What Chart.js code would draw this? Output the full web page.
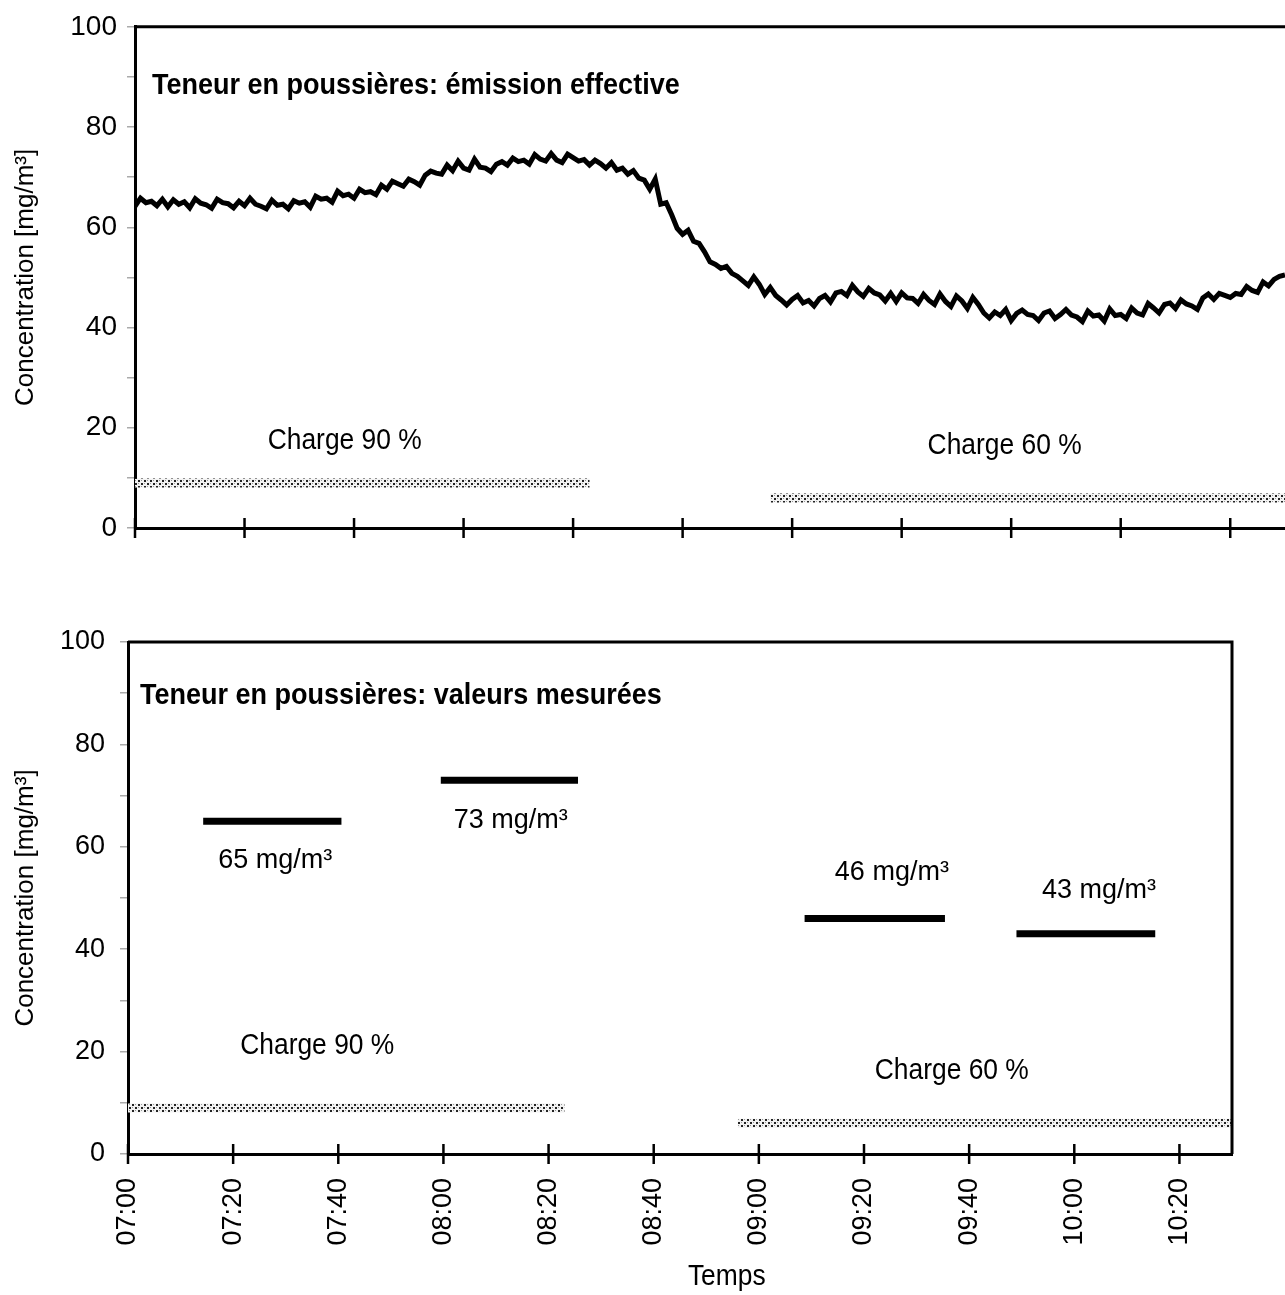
<!DOCTYPE html>
<html>
<head>
<meta charset="utf-8">
<script src="https://cdn.jsdelivr.net/npm/chart.js@4.4.1/dist/chart.umd.min.js"></script>
<style>
  body { margin: 0; background: #fff; width: 1285px; height: 1295px; position: relative; overflow: hidden; }
  #emissionChart { position: absolute; left: 0; top: 0; }
  #measuredChart { position: absolute; left: 0; top: 600px; }
</style>
</head>
<body>
<canvas id="emissionChart" width="1285" height="560"></canvas>
<canvas id="measuredChart" width="1285" height="695"></canvas>
<script>
// time axis: minutes after 07:00
const tickLabels = ['07:00', '07:20', '07:40', '08:00', '08:20', '08:40', '09:00', '09:20', '09:40', '10:00', '10:20'];

// effective emission, one reading per minute from 07:00 to 10:30 (mg/m3)
const emission = [
  64.2, 65.8, 64.9, 65.2, 64.3, 65.6, 64.1, 65.5, 64.6, 65.1,
  63.9, 65.7, 64.8, 64.5, 63.8, 65.6, 64.9, 64.7, 63.9, 65.2,
  64.3, 65.8, 64.6, 64.2, 63.7, 65.4, 64.4, 64.6, 63.7, 65.3,
  64.8, 65.1, 64.0, 66.2, 65.6, 65.8, 65.0, 67.2, 66.3, 66.6,
  65.8, 67.6, 66.9, 67.1, 66.5, 68.4, 67.6, 69.2, 68.7, 68.2,
  69.6, 69.1, 68.4, 70.4, 71.2, 70.8, 70.6, 72.4, 71.3, 73.2,
  71.8, 71.4, 73.6, 72.0, 71.8, 71.1, 72.6, 73.1, 72.4, 73.8,
  73.1, 73.4, 72.6, 74.5, 73.6, 73.2, 74.7, 73.4, 72.9, 74.6,
  73.9, 73.2, 73.5, 72.4, 73.4, 72.7, 71.8, 72.9, 71.4, 71.8,
  70.6, 71.3, 69.8, 69.4, 67.6, 69.6, 64.6, 64.9, 62.5, 59.8,
  58.6, 59.4, 57.2, 56.8, 55.1, 53.1, 52.6, 51.8, 52.2, 50.8,
  50.2, 49.3, 48.4, 50.1, 48.6, 46.6, 48.0, 46.4, 45.5, 44.5,
  45.6, 46.4, 44.9, 45.4, 44.3, 45.8, 46.4, 45.1, 46.9, 47.2,
  46.4, 48.4, 47.1, 46.2, 47.8, 46.9, 46.5, 45.3, 46.8, 45.2,
  46.9, 45.9, 45.8, 44.8, 46.6, 45.4, 44.6, 46.7, 45.2, 44.2,
  46.3, 45.3, 43.8, 46.0, 44.6, 42.9, 41.9, 43.1, 42.4, 43.6,
  41.4, 42.8, 43.5, 42.6, 42.4, 41.4, 42.9, 43.3, 41.8, 42.6,
  43.6, 42.5, 42.1, 41.2, 43.3, 42.3, 42.5, 41.3, 43.7, 42.4,
  42.6, 41.8, 43.9, 42.9, 42.5, 44.8, 43.9, 42.9, 44.6, 44.9,
  43.8, 45.5, 44.7, 44.3, 43.6, 45.9, 46.7, 45.6, 46.8, 46.4,
  46.0, 46.8, 46.6, 48.2, 47.4, 47.0, 49.1, 48.3, 49.6, 50.2, 50.5
];

// measured values per sampling period
const measured = [65, 73, 46, 43];
const periodStart = [14.3, 59.5, 128.7, 169];
const periodEnd = [40.6, 85.6, 155.4, 195.4];

// boiler load periods
const loadLabels = ['Charge 90 %', 'Charge 60 %'];
const loadLevel = [9, 6];
const loadStart = [0, 116];
const loadEnd = [83, 210];

const SANS = '"Liberation Sans", Arial, sans-serif';

function stipple() {
  const c = document.createElement('canvas');
  c.width = 6; c.height = 6;
  const g = c.getContext('2d');
  g.fillStyle = '#f2f2f2'; g.fillRect(0, 0, 6, 6);
  g.fillStyle = '#222'; g.fillRect(0, 0, 2, 2); g.fillRect(3, 3, 2, 2);
  g.fillStyle = '#999'; g.fillRect(3, 0, 1, 1); g.fillRect(0, 3, 1, 1);
  return g.createPattern(c, 'repeat');
}

function loadBands() {
  const pat = stipple();
  return loadLevel.map((lv, i) => ({
    data: [{ x: loadStart[i], y: lv }, { x: loadEnd[i], y: lv }],
    borderColor: pat, borderWidth: 9, borderCapStyle: 'butt', pointRadius: 0
  }));
}

// frame lines, crossing x ticks and free texts placed in data coordinates
const extras = {
  id: 'extras',
  afterDraw(chart, args, opts) {
    const { ctx, chartArea: a, scales: { x, y } } = chart;
    ctx.save();
    ctx.strokeStyle = '#000';
    ctx.lineWidth = 3;
    ctx.beginPath();
    ctx.moveTo(a.left, a.top);
    ctx.lineTo(a.right, a.top);
    if (opts.box) ctx.lineTo(a.right, a.bottom);
    ctx.stroke();
    ctx.lineWidth = 2.5;
    x.ticks.forEach(t => {
      const px = x.getPixelForValue(t.value);
      ctx.beginPath();
      ctx.moveTo(px, a.bottom - 10);
      ctx.lineTo(px, a.bottom + 10);
      ctx.stroke();
    });
    (opts.notes || []).forEach(n => {
      ctx.save();
      ctx.translate(x.getPixelForValue(n.x), y.getPixelForValue(n.y));
      ctx.scale(n.squeeze || 1, 1);
      ctx.font = n.font;
      ctx.fillStyle = '#000';
      ctx.textAlign = n.align || 'center';
      ctx.textBaseline = 'middle';
      ctx.fillText(n.text, 0, 0);
      ctx.restore();
    });
    ctx.restore();
  }
};

function yScale(width, tickFont, pad) {
  return {
    min: 0, max: 100,
    afterFit: s => { s.width = width; },
    border: { display: true, color: '#000', width: 3 },
    grid: { drawOnChartArea: false, tickLength: 8, color: '#aaa', lineWidth: 1.5 },
    ticks: {
      stepSize: 10, autoSkip: false, padding: pad, color: '#000',
      font: { family: SANS, size: tickFont },
      callback: v => (v % 20 === 0 ? v : '')
    },
    title: {
      display: true, text: 'Concentration [mg/m³]', color: '#000',
      font: { family: SANS, size: 26 }, padding: { top: 10, bottom: 0 }
    }
  };
}

function xScale(height, showLabels) {
  return {
    type: 'linear', min: 0, max: 210,
    afterFit: s => { s.height = height; },
    border: { display: true, color: '#000', width: 3 },
    grid: { display: false, tickLength: 10 },
    ticks: {
      display: showLabels, stepSize: 20, includeBounds: false, autoSkip: false,
      minRotation: 90, maxRotation: 90, padding: 14, color: '#000',
      font: { family: SANS, size: 27 },
      callback: v => tickLabels[v / 20]
    }
  };
}

const common = {
  responsive: false,
  animation: false,
  events: [],
  elements: { line: { tension: 0 } }
};

new Chart(document.getElementById('emissionChart').getContext('2d'), {
  type: 'line',
  data: {
    datasets: [
      {
        data: emission.map((v, i) => ({ x: i, y: v })),
        borderColor: '#000', borderWidth: 5, borderJoinStyle: 'miter', pointRadius: 0
      },
      ...loadBands()
    ]
  },
  options: {
    ...common,
    layout: { padding: { top: 22, right: 0, bottom: 0, left: 0 } },
    scales: { x: xScale(32, false), y: yScale(135, 28, 10) },
    plugins: {
      legend: { display: false },
      tooltip: { enabled: false },
      extras: {
        box: false,
        notes: [
          { text: 'Teneur en poussières: émission effective', x: 3.1, y: 88.2, align: 'left', squeeze: 0.9, font: 'bold 30px ' + SANS },
          { text: loadLabels[0], x: 38.3, y: 17.4, squeeze: 0.88, font: '30px ' + SANS },
          { text: loadLabels[1], x: 158.8, y: 16.4, squeeze: 0.88, font: '30px ' + SANS }
        ]
      }
    }
  },
  plugins: [extras]
});

new Chart(document.getElementById('measuredChart').getContext('2d'), {
  type: 'line',
  data: {
    datasets: [
      ...measured.map((v, i) => ({
        data: [{ x: periodStart[i], y: v }, { x: periodEnd[i], y: v }],
        borderColor: '#000', borderWidth: 7, borderCapStyle: 'butt', pointRadius: 0
      })),
      ...loadBands()
    ]
  },
  options: {
    ...common,
    layout: { padding: { top: 42, right: 53, bottom: 0, left: 0 } },
    scales: { x: xScale(141, true), y: yScale(128, 27, 15) },
    plugins: {
      legend: { display: false },
      tooltip: { enabled: false },
      extras: {
        box: true,
        notes: [
          { text: 'Teneur en poussières: valeurs mesurées', x: 2.3, y: 89.5, align: 'left', squeeze: 0.9, font: 'bold 30px ' + SANS },
          { text: loadLabels[0], x: 36, y: 21.1, squeeze: 0.88, font: '30px ' + SANS },
          { text: loadLabels[1], x: 156.7, y: 16.2, squeeze: 0.88, font: '30px ' + SANS },
          { text: measured[0] + ' mg/m³', x: 28, y: 57.4, font: '27px ' + SANS },
          { text: measured[1] + ' mg/m³', x: 72.8, y: 65.2, font: '27px ' + SANS },
          { text: measured[2] + ' mg/m³', x: 145.3, y: 54.9, font: '27px ' + SANS },
          { text: measured[3] + ' mg/m³', x: 184.7, y: 51.4, font: '27px ' + SANS },
          { text: 'Temps', x: 113.9, y: -24, squeeze: 0.88, font: '30px ' + SANS }
        ]
      }
    }
  },
  plugins: [extras]
});
</script>
</body>
</html>
